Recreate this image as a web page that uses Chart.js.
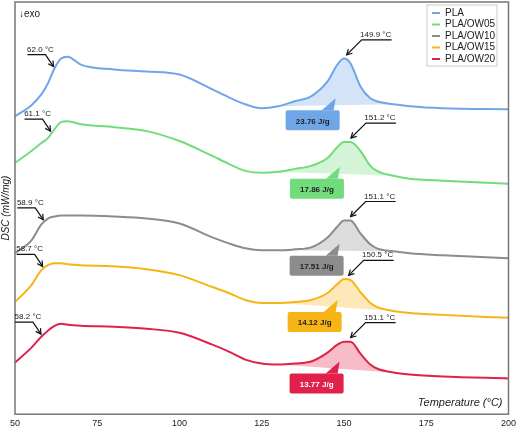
<!DOCTYPE html>
<html>
<head>
<meta charset="utf-8">
<script src="https://cdn.jsdelivr.net/npm/chart.js@4.4.1/dist/chart.umd.min.js"></script>
<style>
  body { margin: 0; background: #fff; }
  #wrap { width: 520px; height: 433px; }
</style>
</head>
<body>
<div id="wrap"><canvas id="dsc"></canvas></div>
<script>
// temperature grid (°C), and heat flow readings (arbitrary units, exo down)
var temps = [50, 55, 58, 60, 62, 64, 66, 70, 80, 90, 100, 110, 115, 120, 125, 130, 135, 140, 145, 148, 150, 152, 155, 158, 160, 165, 170, 180, 200];
var pla    = [115, 104, 93, 82, 67, 57, 55, 63, 68, 70, 73, 88, 96, 103, 107, 105, 100, 95, 80, 63, 57, 62, 85, 97, 100, 103, 105, 107, 108];
var ow05   = [162, 150, 142, 137, 128, 121, 120, 123, 126, 130, 140, 155, 163, 170, 172, 171, 168, 165, 157, 146, 141, 141, 150, 165, 170, 175, 178, 180, 183];
var ow10   = [253, 240, 224, 218, 216, 215, 215, 215, 216, 218, 223, 237, 243, 248, 250, 250, 249, 247, 237, 226, 220, 220, 233, 244, 248, 251, 253, 255, 258];
var ow15   = [302, 285, 270, 265, 263, 263, 264, 265, 266, 269, 275, 287, 293, 300, 303, 303, 302, 300, 293, 284, 279, 280, 292, 303, 307, 311, 313, 315, 318];
var ow20   = [363, 348, 337, 331, 326, 324, 325, 326, 327, 329, 333, 345, 352, 360, 364, 365, 364, 362, 353, 345, 342, 342, 354, 365, 369, 373, 375, 377, 379];

var names  = ['PLA', 'PLA/OW05', 'PLA/OW10', 'PLA/OW15', 'PLA/OW20'];
var tg     = [62.0, 61.1, 58.9, 58.7, 58.2];
var tm     = [149.9, 151.2, 151.1, 150.5, 151.1];
var enthalpy = ['23.76 J/g', '17.86 J/g', '17.51 J/g', '14.12 J/g', '13.77 J/g'];
var xTicks = [50, 75, 100, 125, 150, 175, 200];
var peakStart = 130, peakEnd = 165;

var colors = ['#6fa6e8', '#72dc7c', '#8c8c8c', '#f7b416', '#e0214a'];
var fills  = ['rgba(111,166,232,0.3)', 'rgba(114,220,124,0.3)', 'rgba(140,140,140,0.3)', 'rgba(247,180,22,0.3)', 'rgba(224,33,74,0.3)'];
var series = [pla, ow05, ow10, ow15, ow20];

function valueAt(arr, t) {
  for (var i = 0; i < temps.length - 1; i++) {
    if (t >= temps[i] && t <= temps[i + 1]) {
      var f = (t - temps[i]) / (temps[i + 1] - temps[i]);
      return arr[i] + f * (arr[i + 1] - arr[i]);
    }
  }
  return arr[arr.length - 1];
}

var datasets = [];
series.forEach(function (s, i) {
  datasets.push({
    label: names[i],
    data: temps.map(function (t, k) { return { x: t, y: s[k] }; }),
    borderColor: colors[i], borderWidth: 2, pointRadius: 0,
    cubicInterpolationMode: 'monotone', fill: false
  });
});
series.forEach(function (s, i) {
  // baseline under the melting peak
  datasets.push({
    label: '_base' + i,
    data: [{ x: peakStart, y: valueAt(s, peakStart) }, { x: peakEnd, y: valueAt(s, peakEnd) }],
    borderWidth: 0, borderColor: 'transparent', pointRadius: 0, fill: false
  });
});
series.forEach(function (s, i) {
  var pts = [];
  temps.forEach(function (t, k) { if (t >= peakStart && t <= peakEnd) pts.push({ x: t, y: s[k] }); });
  datasets.push({
    label: '_peak' + i,
    data: pts, borderWidth: 0, borderColor: 'transparent', pointRadius: 0,
    cubicInterpolationMode: 'monotone', backgroundColor: fills[i], fill: 5 + i
  });
});

function arrowHead(ctx, fx, fy, tx, ty) {
  var a = Math.atan2(ty - fy, tx - fx), L = 6;
  ctx.beginPath();
  ctx.moveTo(tx - L * Math.cos(a - 0.5), ty - L * Math.sin(a - 0.5));
  ctx.lineTo(tx, ty);
  ctx.lineTo(tx - L * Math.cos(a + 0.5), ty - L * Math.sin(a + 0.5));
  ctx.stroke();
}

var decor = {
  id: 'decor',
  afterDatasetsDraw: function (chart) {
    var ctx = chart.ctx, a = chart.chartArea;
    var xs = chart.scales.x, ys = chart.scales.y;
    ctx.save();
    // frame
    ctx.strokeStyle = '#777'; ctx.lineWidth = 1.5;
    ctx.strokeRect(a.left, a.top, a.right - a.left, a.bottom - a.top);

    ctx.fillStyle = '#222';
    ctx.font = '10px "Liberation Sans", Arial, sans-serif';
    ctx.textAlign = 'left'; ctx.textBaseline = 'middle';
    ctx.fillText('\u2193exo', a.left + 4, a.top + 12);

    ctx.font = 'italic 11px "Liberation Sans", Arial, sans-serif';
    ctx.textAlign = 'right'; ctx.textBaseline = 'alphabetic';
    ctx.fillText('Temperature (\u00b0C)', a.right - 6, a.bottom - 8);

    ctx.save();
    ctx.translate(6, (a.top + a.bottom) / 2);
    ctx.rotate(-Math.PI / 2);
    ctx.textAlign = 'center'; ctx.textBaseline = 'middle';
    ctx.font = 'italic 10px "Liberation Sans", Arial, sans-serif';
    ctx.fillText('DSC (mW/mg)', 0, 0);
    ctx.restore();

    ctx.strokeStyle = '#111'; ctx.lineWidth = 1.2;
    ctx.font = '8px "Liberation Sans", Arial, sans-serif';
    series.forEach(function (s, i) {
      // glass transition callout
      var px = xs.getPixelForValue(tg[i]), py = ys.getPixelForValue(valueAt(s, tg[i]));
      var ex = px - 9, ey = py - 14;
      ctx.beginPath(); ctx.moveTo(ex - 18, ey); ctx.lineTo(ex, ey); ctx.lineTo(px - 1, py - 2); ctx.stroke();
      arrowHead(ctx, ex, ey, px - 1, py - 2);
      ctx.textAlign = 'center'; ctx.textBaseline = 'alphabetic';
      ctx.fillText(tg[i].toFixed(1) + ' \u00b0C', ex - 5, ey - 3);

      // melting peak callout
      var mx = xs.getPixelForValue(tm[i]), my = ys.getPixelForValue(valueAt(s, tm[i]));
      var tx = mx + 3, ty = my - 4, kx = mx + 18, ky = my - 19;
      ctx.beginPath(); ctx.moveTo(kx + 30, ky); ctx.lineTo(kx, ky); ctx.lineTo(tx, ty); ctx.stroke();
      arrowHead(ctx, kx, ky, tx, ty);
      ctx.fillText(tm[i].toFixed(1) + ' \u00b0C', kx + 14, ky - 3);

      // enthalpy box
      var by = ys.getPixelForValue((valueAt(s, peakStart) + valueAt(s, peakEnd)) / 2) + 5;
      var bx = mx - 58, bw = 54, bh = 20;
      ctx.fillStyle = colors[i];
      ctx.beginPath();
      ctx.moveTo(bx + bw - 18, by);
      ctx.lineTo(mx - 8, by - 12);
      ctx.lineTo(bx + bw - 6, by);
      ctx.closePath(); ctx.fill();
      ctx.beginPath();
      if (ctx.roundRect) ctx.roundRect(bx, by, bw, bh, 2); else ctx.rect(bx, by, bw, bh);
      ctx.fill();
      ctx.fillStyle = i === 4 ? '#fff' : '#222';
      ctx.font = 'bold 8px "Liberation Sans", Arial, sans-serif';
      ctx.textBaseline = 'middle';
      ctx.fillText(enthalpy[i], bx + bw / 2, by + bh / 2 + 1);
      ctx.font = '8px "Liberation Sans", Arial, sans-serif';
      ctx.fillStyle = '#222';
    });

    // legend
    var lx = 427, ly = 5, lw = 70, lh = 61;
    ctx.fillStyle = '#fff'; ctx.fillRect(lx, ly, lw, lh);
    ctx.strokeStyle = '#ccc'; ctx.lineWidth = 1; ctx.strokeRect(lx, ly, lw, lh);
    ctx.font = '10px "Liberation Sans", Arial, sans-serif';
    ctx.textAlign = 'left'; ctx.textBaseline = 'middle';
    names.forEach(function (n, i) {
      var yy = ly + 8 + i * 11.5;
      ctx.strokeStyle = colors[i]; ctx.lineWidth = 2;
      ctx.beginPath(); ctx.moveTo(lx + 5, yy); ctx.lineTo(lx + 13, yy); ctx.stroke();
      ctx.fillStyle = '#222';
      ctx.fillText(n, lx + 18, yy);
    });
    ctx.restore();
  }
};

new Chart(document.getElementById('dsc'), {
  type: 'line',
  data: { datasets: datasets },
  plugins: [decor],
  options: {
    responsive: true, maintainAspectRatio: false, animation: false,
    layout: { padding: { left: 15, right: 7, top: 2, bottom: 0 } },
    plugins: { legend: { display: false }, tooltip: { enabled: false } },
    scales: {
      x: {
        type: 'linear', min: 50, max: 200,
        grid: { display: false, drawTicks: false },
        border: { display: false },
        afterBuildTicks: function (ax) { ax.ticks = xTicks.map(function (v) { return { value: v }; }); },
        ticks: { color: '#222', font: { size: 9, family: '"Liberation Sans", Arial, sans-serif' }, padding: 4, maxRotation: 0 }
      },
      y: {
        display: false, reverse: true, min: 0, max: 415
      }
    }
  }
});
</script>
</body>
</html>
